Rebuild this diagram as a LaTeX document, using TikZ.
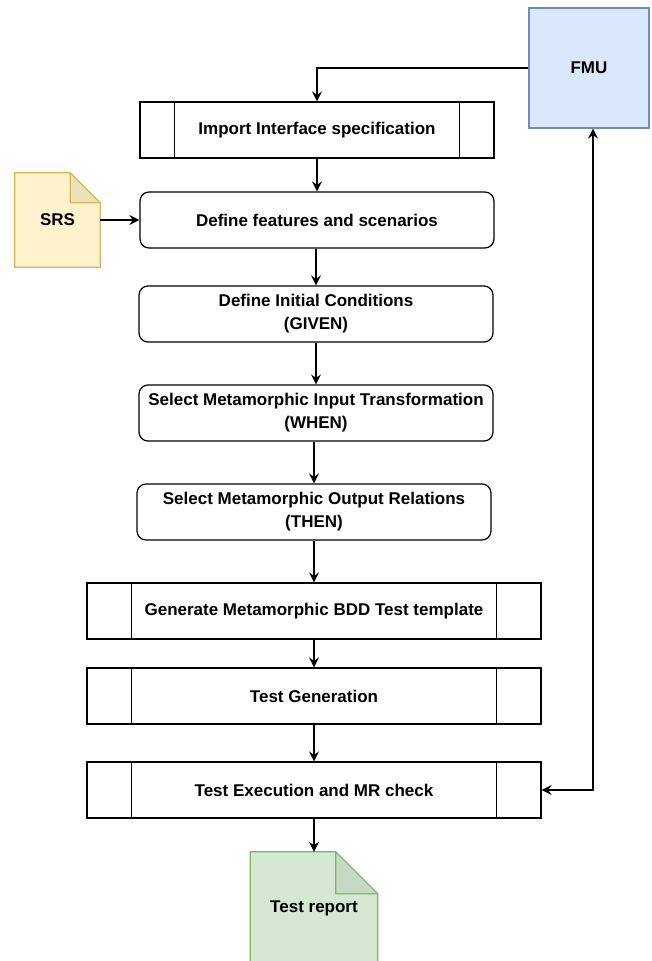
\documentclass[tikz,border=0pt]{standalone}
\usepackage{fontspec}
\setmainfont{Liberation Sans}
\usetikzlibrary{arrows.meta}
\definecolor{fmufill}{HTML}{DAE8FC}
\definecolor{fmuline}{HTML}{6C8EBF}
\definecolor{srsfill}{HTML}{FFF2CC}
\definecolor{srsfold}{HTML}{EEE0BA}
\definecolor{srsline}{HTML}{D6B656}
\definecolor{repfill}{HTML}{D5E8D4}
\definecolor{repfold}{HTML}{C6D9C5}
\definecolor{repline}{HTML}{82B366}
\begin{document}
\begin{tikzpicture}[x=1pt,y=-1pt,
  every node/.style={font=\fontsize{17}{23}\selectfont\bfseries, align=center, inner sep=0pt},
  base/.style={draw=black, line width=1.2pt, minimum height=56pt},
  procbox/.style={base, rectangle},
  roundbox/.style={base, rounded corners=9pt, minimum width=354pt},
  conn/.style={line width=1.2pt, -{Stealth[length=10pt,width=10pt,inset=3.5pt]}},
  both/.style={line width=1.2pt, {Stealth[length=10pt,width=10pt,inset=3.5pt]}-{Stealth[length=10pt,width=10pt,inset=3.5pt]}}
]
\useasboundingbox (0,0) rectangle (651,961);
\clip (0,0) rectangle (651,961);

% FMU
\node[draw=fmuline, fill=fmufill, line width=1.2pt, minimum width=120pt, minimum height=120pt] (fmu) at (589,68) {FMU};

% process boxes with inner side lines
\node[procbox, minimum width=354pt] (imp) at (317,130) {Import Interface specification};
\node[roundbox] (feat) at (317,220) {Define features and scenarios};
\node[roundbox] (init) at (316,314) {Define Initial Conditions\\(GIVEN)};
\node[roundbox] (inp) at (316,413) {Select Metamorphic Input Transformation\\(WHEN)};
\node[roundbox] (outp) at (314,512) {Select Metamorphic Output Relations\\(THEN)};
\node[procbox, minimum width=454pt] (gen) at (314,611) {Generate Metamorphic BDD Test template};
\node[procbox, minimum width=454pt] (tgen) at (314,696) {Test Generation};
\node[procbox, minimum width=454pt] (texe) at (314,790) {Test Execution and MR check};

\foreach \n/\d in {imp/35.4, gen/45.4, tgen/45.4, texe/45.4}{
  \draw[line width=1.2pt] ([xshift=\d pt]\n.north west) -- ([xshift=\d pt]\n.south west);
  \draw[line width=1.2pt] ([xshift=-\d pt]\n.north east) -- ([xshift=-\d pt]\n.south east);
}

% SRS note
\node[minimum width=85pt, minimum height=94pt] (srs) at (57.5,220) {};
\draw[draw=srsline, fill=srsfill, line width=1.2pt]
  (srs.north west) -- ([xshift=-30pt]srs.north east) -- ([yshift=-30pt]srs.north east) -- (srs.south east) -- (srs.south west) -- cycle;
\draw[draw=srsline, fill=srsfold, line width=1.2pt]
  ([xshift=-30pt]srs.north east) -- ([xshift=-30pt,yshift=-30pt]srs.north east) -- ([yshift=-30pt]srs.north east) -- cycle;
\node (srstext) at (srs.center) {SRS};

% Test report note
\node[minimum width=127pt, minimum height=140pt] (rep) at (314,922) {};
\draw[draw=repline, fill=repfill, line width=1.2pt]
  (rep.north west) -- ([xshift=-42pt]rep.north east) -- ([yshift=-42pt]rep.north east) -- (rep.south east) -- (rep.south west) -- cycle;
\draw[draw=repline, fill=repfold, line width=1.2pt]
  ([xshift=-42pt]rep.north east) -- ([xshift=-42pt,yshift=-42pt]rep.north east) -- ([yshift=-42pt]rep.north east) -- cycle;
\node (reptext) at (314,908) {Test report};

% connectors
\draw[conn] (fmu.west) -| (imp.north);
\draw[conn] (imp.south) -- (feat.north -| imp.south);
\draw[conn] (srs.east) -- (feat.west);
\draw[conn] (feat.south -| init.north) -- (init.north);
\draw[conn] (init.south) -- (inp.north);
\draw[conn] (inp.south -| outp.north) -- (outp.north);
\draw[conn] (outp.south) -- (gen.north);
\draw[conn] (gen.south) -- (tgen.north);
\draw[conn] (tgen.south) -- (texe.north);
\draw[conn] (texe.south) -- (rep.north);
\coordinate (fmub) at ([xshift=4pt]fmu.south);
\draw[both] (fmub) -- (fmub |- texe.east) -- (texe.east);
\end{tikzpicture}
\end{document}
